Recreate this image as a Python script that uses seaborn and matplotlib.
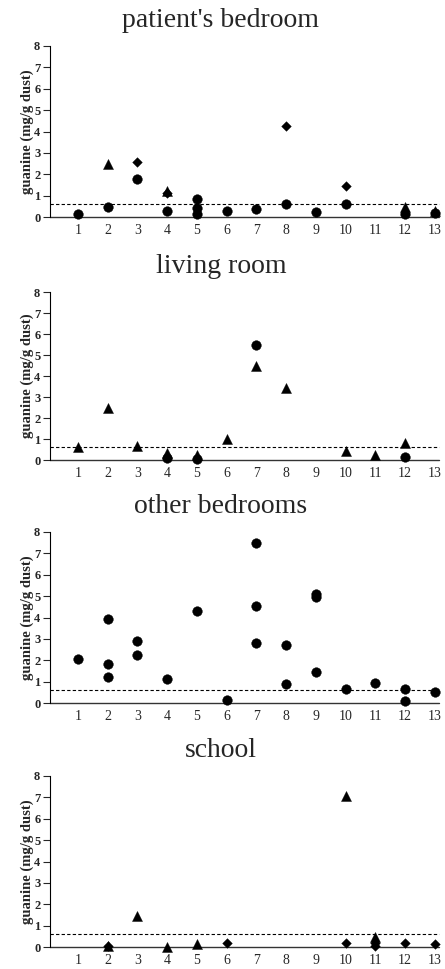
import matplotlib
matplotlib.use("Agg")
import matplotlib.pyplot as plt
import seaborn as sns
import pandas as pd

sns.set_style("white")
plt.rcParams["font.family"] = ["Liberation Serif", "DejaVu Serif"]

# ---- data (subject number, guanine mg/g dust) ----
titles = ["patient's bedroom", "living room", "other bedrooms", "school"]

bed_circle_x = [1, 2, 3, 4, 5, 5, 5, 6, 7, 8, 9, 10, 12, 13]
bed_circle_y = [0.15, 0.45, 1.78, 0.27, 0.85, 0.4, 0.15, 0.28, 0.38, 0.6, 0.25, 0.62, 0.15, 0.18]
bed_tri_x = [2, 4, 12, 13]
bed_tri_y = [2.5, 1.2, 0.45, 0.3]
bed_dia_x = [3, 4, 8, 10]
bed_dia_y = [2.55, 1.1, 4.26, 1.43]

liv_circle_x = [4, 5, 7, 12]
liv_circle_y = [0.08, 0.05, 5.5, 0.13]
liv_tri_x = [1, 2, 3, 4, 5, 6, 7, 8, 10, 11, 12]
liv_tri_y = [0.6, 2.5, 0.68, 0.32, 0.22, 0.98, 4.5, 3.44, 0.45, 0.24, 0.8]

oth_circle_x = [1, 2, 2, 2, 3, 3, 4, 5, 6, 7, 7, 7, 8, 8, 9, 9, 9, 10, 11, 12, 12, 13]
oth_circle_y = [2.07, 3.91, 1.83, 1.23, 2.89, 2.24, 1.12, 4.3, 0.12, 7.5, 4.55, 2.81,
                2.73, 0.88, 5.12, 4.97, 1.46, 0.67, 0.93, 0.65, 0.11, 0.53]

sch_tri_x = [2, 3, 4, 5, 10, 11]
sch_tri_y = [0.07, 1.45, 0.02, 0.15, 7.05, 0.45]
sch_dia_x = [2, 6, 10, 11, 11, 12, 13]
sch_dia_y = [0.04, 0.18, 0.18, 0.2, 0.05, 0.2, 0.15]

threshold = 0.63


def make_df(cx, cy, tx, ty, dx, dy):
    rows = []
    for kind, xs, ys in [("circle", cx, cy), ("triangle", tx, ty), ("diamond", dx, dy)]:
        for x, y in zip(xs, ys):
            rows.append({"subject": x, "guanine": y, "kind": kind})
    return pd.DataFrame(rows)


panels = [
    make_df(bed_circle_x, bed_circle_y, bed_tri_x, bed_tri_y, bed_dia_x, bed_dia_y),
    make_df(liv_circle_x, liv_circle_y, liv_tri_x, liv_tri_y, [], []),
    make_df(oth_circle_x, oth_circle_y, [], [], [], []),
    make_df([], [], sch_tri_x, sch_tri_y, sch_dia_x, sch_dia_y),
]

marker_of = {"circle": "o", "triangle": "^", "diamond": "D"}
size_of = {"circle": 48, "triangle": 52, "diamond": 24}

W, H = 445, 969
fig = plt.figure(figsize=(W / 100, H / 100), dpi=100)

# axes tops (y=8) and bottoms (y=0) in pixels
tops = [46, 292, 532, 776]
bottoms = [217, 460, 703, 947]
left_px = 50

for ax_i, (df, title) in enumerate(zip(panels, titles)):
    t, b = tops[ax_i], bottoms[ax_i]
    ax = fig.add_axes([left_px / W, 1 - b / H, (W - left_px) / W, (b - t) / H])

    for kind, sub in df.groupby("kind"):
        sns.scatterplot(data=sub, x="subject", y="guanine", marker=marker_of[kind],
                        s=size_of[kind], color="black", edgecolor="black",
                        linewidth=0.3, legend=False, clip_on=False, zorder=3, ax=ax)

    ax.axhline(threshold, xmax=0.985, color="black", lw=0.8, ls=(0, (3, 2)), zorder=1)
    ax.axhline(0, xmax=0.985, color="#333333", lw=1.0, zorder=1, clip_on=False)

    ax.set_xlim(0.06, 13.34)
    ax.set_ylim(0, 8)
    ax.set_xticks(range(1, 14))
    ax.set_xticklabels([str(i) for i in range(1, 14)], fontsize=10)
    ax.set_yticks(range(0, 9))
    ax.set_yticklabels([str(i) for i in range(0, 9)], fontsize=9, fontweight="bold")
    ax.tick_params(axis="x", length=0, pad=5)
    ax.tick_params(axis="y", length=5, width=0.8, pad=2, direction="out", left=True)

    for side in ["top", "right", "bottom"]:
        ax.spines[side].set_visible(False)
    ax.spines["left"].set_linewidth(0.8)
    ax.spines["left"].set_color("black")

    ax.set_xlabel("")
    ax.set_ylabel("guanine (mg/g dust)", fontsize=10.5, fontweight="bold", labelpad=0)

    ax.annotate(title, xy=((221 - left_px) / (W - left_px), 1), xycoords="axes fraction",
                xytext=(0, 14), textcoords="offset points", ha="center", va="baseline",
                fontsize=20, annotation_clip=False)

fig.savefig("out.png", dpi=100)
